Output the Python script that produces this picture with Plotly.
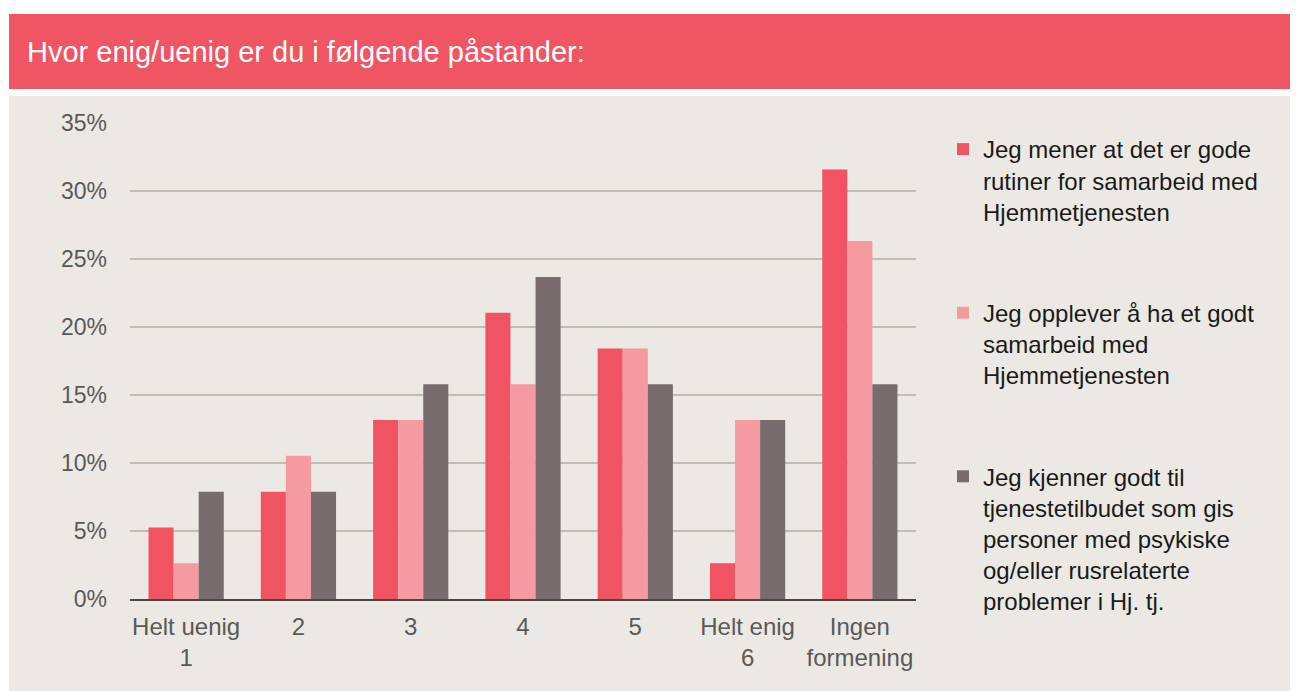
import plotly.graph_objects as go

categories = ["Helt uenig<br>1", "2", "3", "4", "5", "Helt enig<br>6", "Ingen<br>formening"]
series_names = [
    "Jeg mener at det er gode<br>rutiner for samarbeid med<br>Hjemmetjenesten",
    "Jeg opplever å ha et godt<br>samarbeid med<br>Hjemmetjenesten",
    "Jeg kjenner godt til<br>tjenestetilbudet som gis<br>personer med psykiske<br>og/eller rusrelaterte<br>problemer i Hj. tj.",
]
rutiner = [5.26, 7.89, 13.16, 21.05, 18.42, 2.63, 31.58]
samarbeid = [2.63, 10.53, 13.16, 15.79, 18.42, 13.16, 26.32]
kjenner = [7.89, 7.89, 15.79, 23.68, 15.79, 13.16, 15.79]
colors = ["#F05462", "#F59AA1", "#786C6F"]
y_ticks = [0, 5, 10, 15, 20, 25, 30, 35]
y_ticklabels = [f"{v}%" for v in y_ticks]
title_text = "Hvor enig/uenig er du i følgende påstander:"

OFF = 8  # page body margin
W, H = 1298 - OFF, 691 - OFF
L, R, T, B = 130 - OFF, 916 - OFF, 123 - OFF, 599 - OFF
pw, ph = R - L, B - T

def px(x):  # window x -> paper
    return (x - OFF - L) / pw

def py(y):  # window y -> paper
    return (B - (y - OFF)) / ph

fig = go.Figure()
for i, (name, vals) in enumerate(zip(series_names, [rutiner, samarbeid, kjenner])):
    fig.add_trace(go.Bar(
        x=categories, y=vals, name=name, legendgroup=f"g{i}",
        marker=dict(color=colors[i], line=dict(width=0)),
        hoverinfo="skip",
    ))

shapes = [
    dict(type="rect", xref="paper", yref="paper", x0=px(9), x1=px(1310), y0=py(14), y1=py(89),
         fillcolor="#F05564", line=dict(width=0), layer="below"),
    dict(type="rect", xref="paper", yref="paper", x0=px(9), x1=px(1310), y0=py(96), y1=py(700),
         fillcolor="#ECE9E4", line=dict(width=0), layer="below"),
]

fig.update_layout(
    width=W, height=H,
    margin=dict(l=L, r=W - R, t=T, b=H - B, pad=0),
    paper_bgcolor="white",
    plot_bgcolor="rgba(0,0,0,0)",
    barmode="group", bargap=0.33, bargroupgap=0,
    font=dict(family="Liberation Sans, Arial, sans-serif", color="#595959"),
    shapes=shapes,
    showlegend=True,
    legend=dict(
        x=px(943), y=py(127), xanchor="left", yanchor="top",
        font=dict(size=24, color="#1A1A1A"),
        tracegroupgap=67, bgcolor="rgba(0,0,0,0)", valign="top",
        maxheight=800,
        itemclick=False, itemdoubleclick=False,
    ),
    annotations=[dict(
        text=title_text, xref="paper", yref="paper", x=px(25), y=py(52),
        xanchor="left", yanchor="middle", showarrow=False,
        font=dict(size=29, color="white", family="Liberation Sans, Arial, sans-serif"),
    )],
)
fig.update_yaxes(
    range=[0, 35], tickvals=y_ticks, ticktext=y_ticklabels,
    showgrid=True, gridcolor="#C4BBB5", gridwidth=1.5,
    zeroline=False, showline=False, ticks="",
    tickfont=dict(size=23, color="#595959"), ticklabelstandoff=22,
)
fig.update_xaxes(
    showline=True, linecolor="#4A4446", linewidth=2, ticks="",
    tickfont=dict(size=24, color="#595959"), ticklabelstandoff=5,
)

fig.write_html("out.html")
